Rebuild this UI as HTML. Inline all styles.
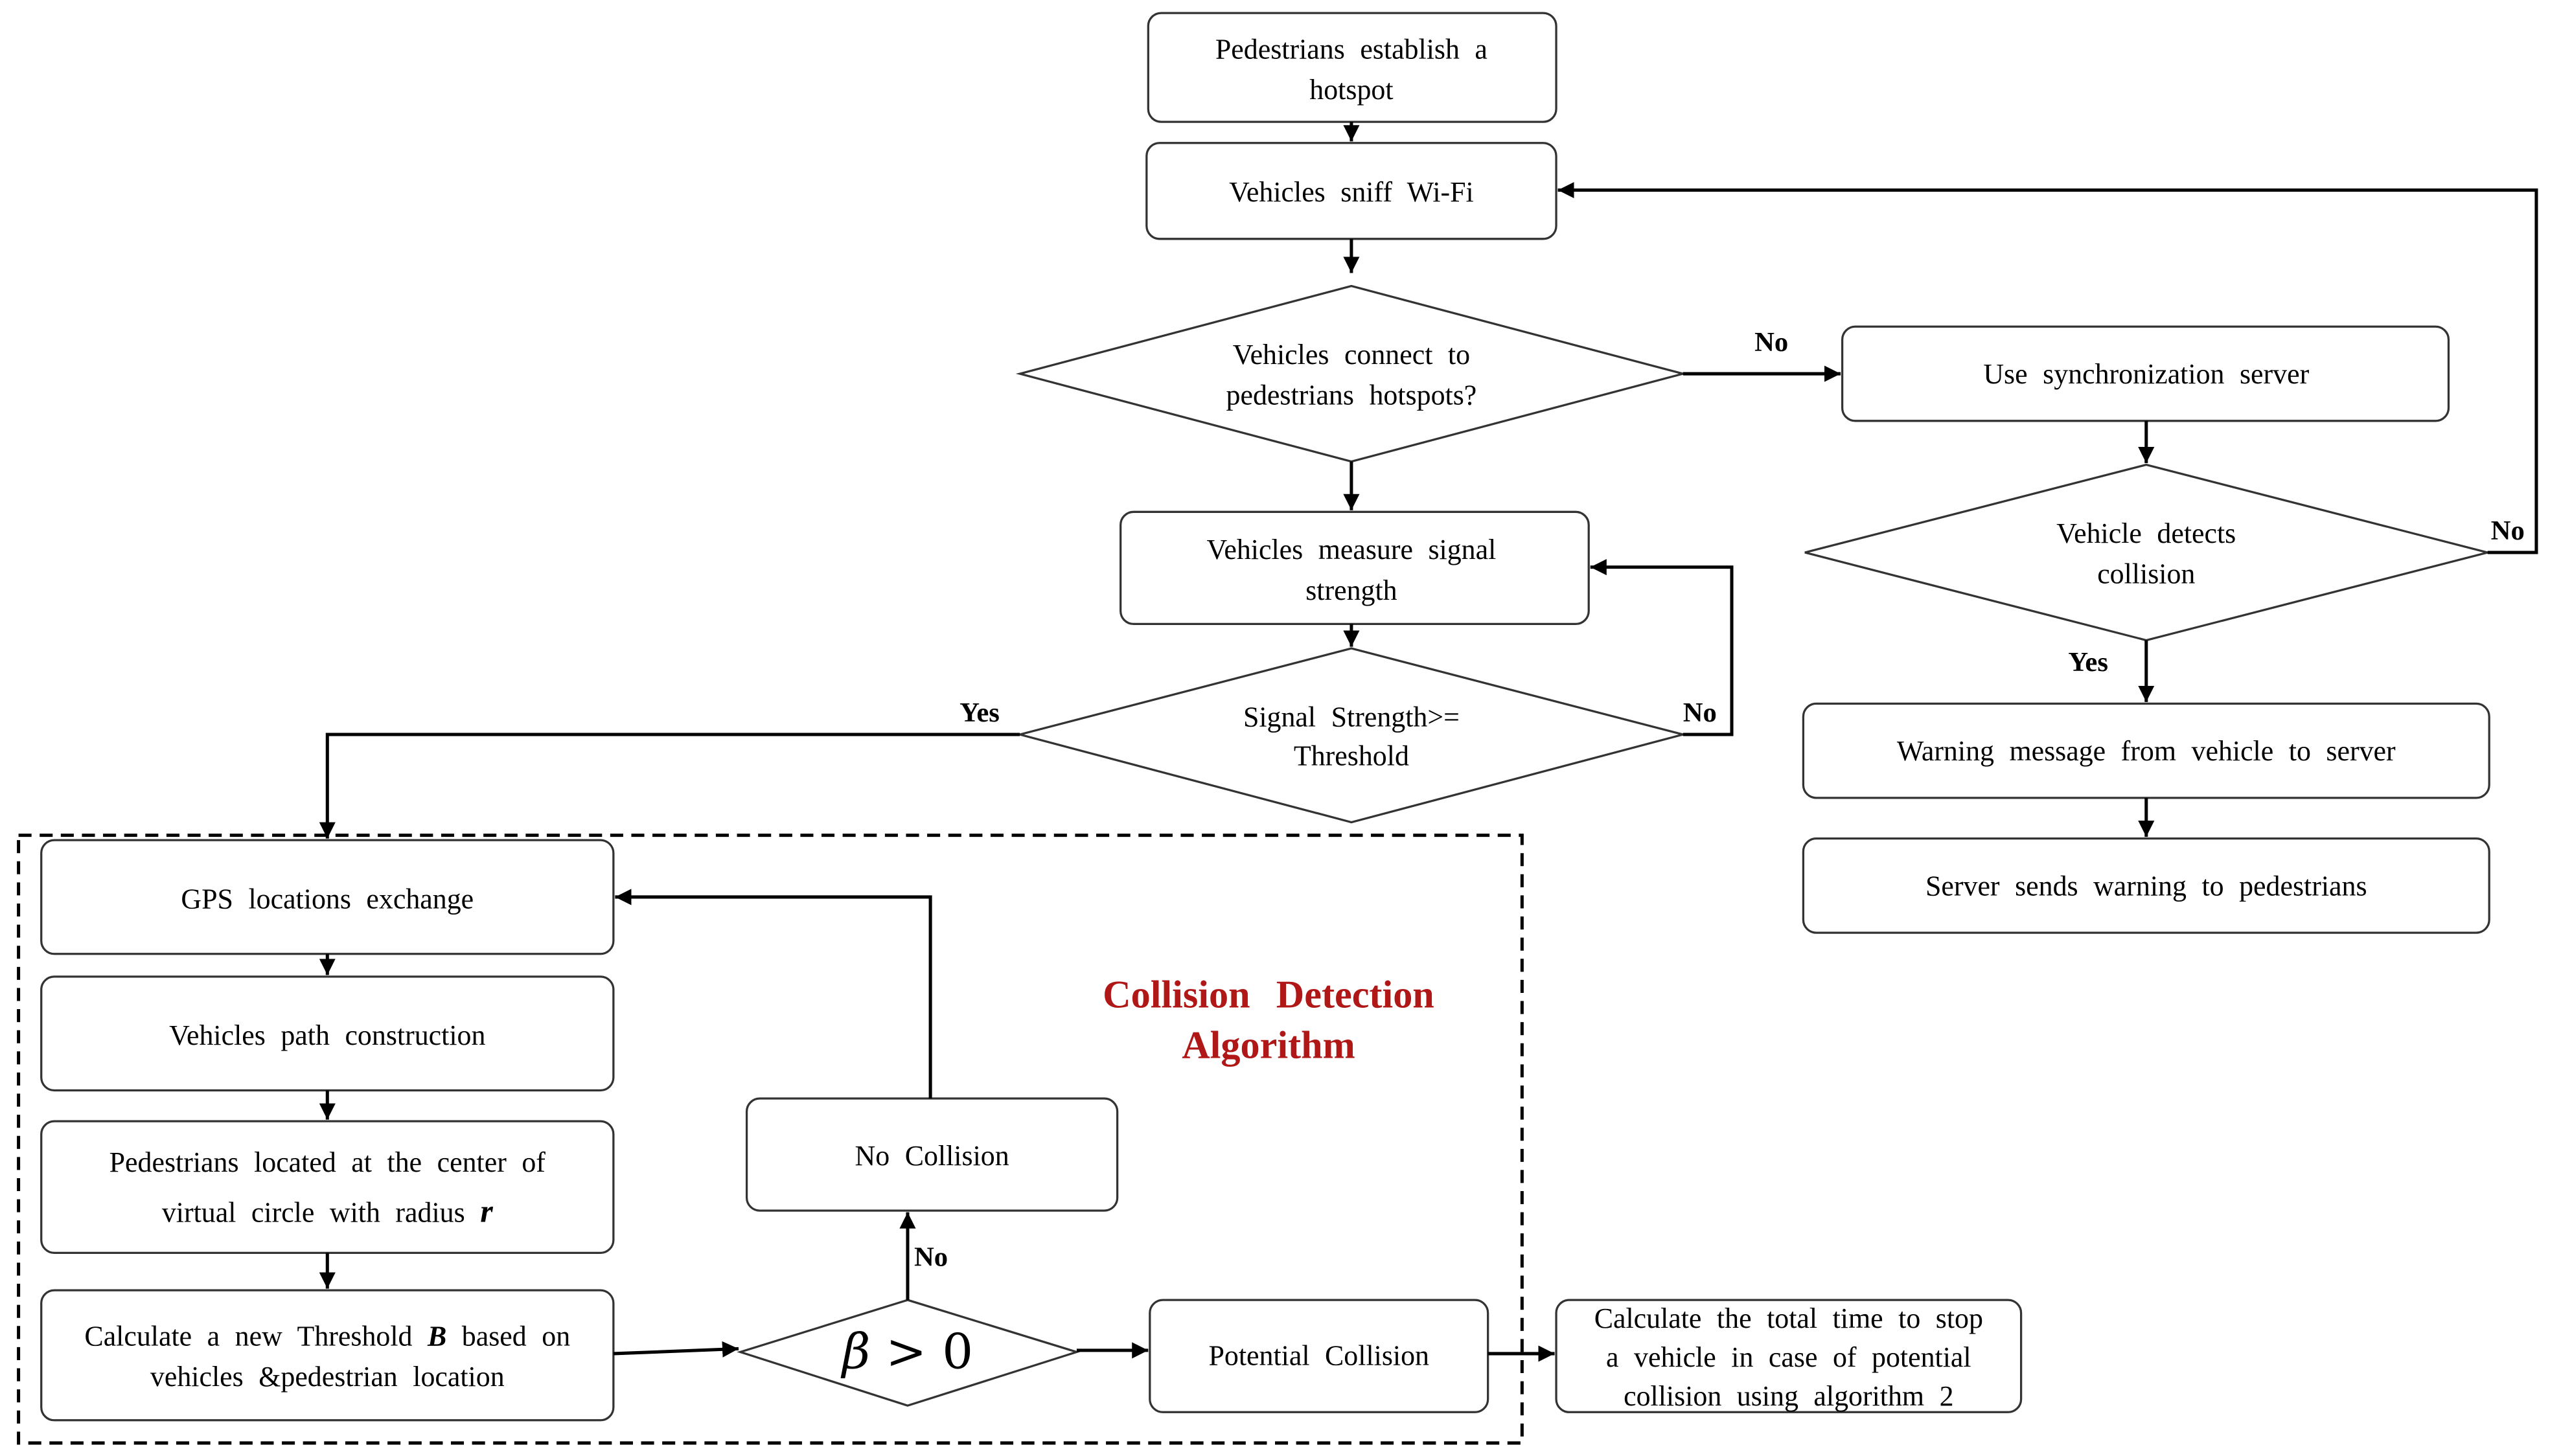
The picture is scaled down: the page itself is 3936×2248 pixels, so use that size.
<!DOCTYPE html>
<html><head><meta charset="utf-8">
<style>
html,body{margin:0;padding:0;background:#fff;}
svg{display:block;}
text{font-family:"Liberation Serif",serif;font-size:17.5px;fill:#000;word-spacing:5px;}
.b{font-family:"Liberation Serif",serif;font-weight:bold;font-size:17px;}
</style></head><body>
<svg width="3936" height="2248" viewBox="0 0 1568 896" xmlns="http://www.w3.org/2000/svg">
<defs>
<marker id="a" viewBox="0 0 10 10" refX="10" refY="5" markerWidth="5" markerHeight="5" orient="auto"><path d="M0,0 L10,5 L0,10 z" fill="#000"/></marker>
</defs>
<g fill="#fff" stroke="#333" stroke-width="1.3">
<rect x="706" y="8" width="251" height="67" rx="8"/>
<rect x="705" y="88" width="252" height="59" rx="8"/>
<polygon points="627,230 831,176 1035,230 831,284"/>
<rect x="1133" y="201" width="373" height="58" rx="8"/>
<polygon points="1110,340 1320,286 1530,340 1320,394"/>
<rect x="689" y="315" width="288" height="69" rx="8"/>
<polygon points="627,452 831,399 1035,452 831,506"/>
<rect x="1109" y="433" width="422" height="58" rx="8"/>
<rect x="1109" y="516" width="422" height="58" rx="8"/>
<rect x="25" y="517" width="352" height="70" rx="8"/>
<rect x="25" y="601" width="352" height="70" rx="8"/>
<rect x="25" y="690" width="352" height="81" rx="8"/>
<rect x="25" y="794" width="352" height="80" rx="8"/>
<polygon points="455,832 558,800 662,832 558,865"/>
<rect x="459" y="676" width="228" height="69" rx="8"/>
<rect x="707" y="800" width="208" height="69" rx="8"/>
<rect x="957" y="800" width="286" height="69" rx="8"/>
</g>
<rect x="11" y="514" width="925" height="374" fill="none" stroke="#000" stroke-width="2" stroke-dasharray="8,5"/>
<g fill="none" stroke="#000" stroke-width="2" marker-end="url(#a)">
<path d="M831,75 V87"/>
<path d="M831,147 V168"/>
<path d="M1035,230 H1132"/>
<path d="M1320,259 V285"/>
<path d="M1530,340 H1560 V117 H958"/>
<path d="M1320,394 V432"/>
<path d="M1320,491 V515"/>
<path d="M831,284 V314"/>
<path d="M831,384 V398"/>
<path d="M1035,452 H1065 V349 H978"/>
<path d="M627,452 H201 V516"/>
<path d="M201,587 V600"/>
<path d="M201,671 V689"/>
<path d="M201,771 V793"/>
<path d="M377,833 L454,830"/>
<path d="M662,831 H706"/>
<path d="M558,800 V746"/>
<path d="M572,676 V552 H378"/>
<path d="M915,833 H956"/>
</g>
<g text-anchor="middle">
<text x="831" y="36">Pedestrians establish a</text>
<text x="831" y="61">hotspot</text>
<text x="831" y="124">Vehicles sniff Wi-Fi</text>
<text x="831" y="224">Vehicles connect to</text>
<text x="831" y="249">pedestrians hotspots?</text>
<text x="1320" y="236">Use synchronization server</text>
<text x="1320" y="334">Vehicle detects</text>
<text x="1320" y="359">collision</text>
<text x="831" y="344">Vehicles measure signal</text>
<text x="831" y="369">strength</text>
<text x="831" y="447">Signal Strength&gt;=</text>
<text x="831" y="471">Threshold</text>
<text x="1320" y="468">Warning message from vehicle to server</text>
<text x="1320" y="551">Server sends warning to pedestrians</text>
<text x="201" y="559">GPS locations exchange</text>
<text x="201" y="643">Vehicles path construction</text>
<text x="201" y="721">Pedestrians located at the center of</text>
<text x="201" y="752">virtual circle with radius <tspan font-weight="bold" font-style="italic" font-size="20">r</tspan></text>
<text x="201" y="828">Calculate a new Threshold <tspan font-weight="bold" font-style="italic">B</tspan> based on</text>
<text x="201" y="853">vehicles &amp;pedestrian location</text>
<text x="558" y="842" style="font-size:30px;font-family:'DejaVu Serif',serif;word-spacing:0"><tspan font-style="italic">β</tspan> &gt; 0</text>
<text x="573" y="717">No Collision</text>
<text x="811" y="840">Potential Collision</text>
<text x="1100" y="817">Calculate the total time to stop</text>
<text x="1100" y="841">a vehicle in case of potential</text>
<text x="1100" y="865">collision using algorithm 2</text>
<text x="780" y="620" style="fill:#b01818;font-weight:bold;font-size:24px;word-spacing:10px">Collision Detection</text>
<text x="780" y="651" style="fill:#b01818;font-weight:bold;font-size:24px">Algorithm</text>
</g>
<text class="b" x="1079" y="216">No</text>
<text class="b" x="1532" y="332">No</text>
<text class="b" x="1272" y="413">Yes</text>
<text class="b" x="1035" y="444">No</text>
<text class="b" x="590" y="444">Yes</text>
<text class="b" x="562" y="779">No</text>
</svg>
</body></html>
